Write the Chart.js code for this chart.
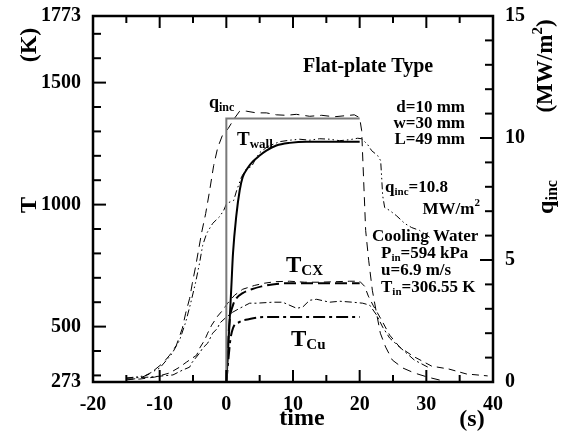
<!DOCTYPE html>
<html><head><meta charset="utf-8">
<script src="https://cdn.jsdelivr.net/npm/chart.js@4.4.1/dist/chart.umd.min.js"></script>
<style>html,body{margin:0;padding:0;background:#fff;}canvas{display:block;}</style>
</head><body>
<canvas id="c" width="565" height="434"></canvas>
<script>
// ---------- tick labels ----------
const xTicks = [-20, -10, 0, 10, 20, 30, 40];
const tTicks = [273, 500, 1000, 1500, 1773];
const qTicks = [0, 5, 10, 15];

// ---------- incident heat flux step (MW/m2) ----------
const qStepT = [0, 0, 20];
const qStepV = [0, 10.8, 10.8];

// ---------- measured heat flux (dashed, MW/m2) ----------
const qMeasT = [-15, -13, -11.5, -9.5, -8.5, -7.5, -6.6, -6.1, -5.5, -5.1, -4.6, -4.15, -3.7, -3.1, -2.5, -1.9, -1.3, -0.6, 0.3, 1.2, 2.0, 3.0, 4.5, 6.0, 7.5, 9.0, 10.5, 12.5, 14.3, 16.2, 17.7, 19.2, 20.0, 20.3, 20.6, 20.9, 21.35, 21.9, 22.5, 23.1, 23.9, 24.9, 26.5, 28.2, 30.2, 32.0];
const qMeasV = [0.08, 0.16, 0.33, 0.78, 1.1, 1.5, 2.2, 2.82, 3.43, 4.05, 4.74, 5.44, 6.13, 6.9, 7.85, 8.87, 9.6, 10.1, 10.4, 10.8, 11.1, 11.1, 11.03, 11.03, 10.95, 10.93, 10.97, 10.89, 10.93, 10.87, 10.91, 10.95, 10.83, 10.3, 8.25, 6.21, 4.99, 3.76, 2.86, 2.0, 1.43, 0.9, 0.57, 0.37, 0.2, 0.08];

// ---------- T_wall calculated (solid, K) ----------
const twCalcT = [0, 0.24, 0.5, 0.75, 1.0, 1.5, 2.0, 2.45, 3.2, 3.95, 5.0, 6.0, 7.5, 9.5, 12, 20];
const twCalcV = [273, 392, 526, 662, 800, 955, 1058, 1112, 1150, 1176, 1201, 1221, 1242, 1253, 1258, 1258];

// ---------- T_wall measured (dash-dot-dot, K) ----------
const twMeasT = [-15, -12.25, -10, -8.2, -7, -6.1, -5.35, -4.6, -4.0, -3.55, -2.95, -2.05, -1.0, -0.4, 0.05, 1.1, 1.55, 2.3, 3.05, 3.8, 4.4, 5.0, 6.2, 8, 9.5, 11, 12.5, 14, 15.5, 17, 18.5, 19.7, 20.3, 21.2, 21.8, 22.7, 23.15, 23.3, 23.45, 23.75, 24.5, 25.5, 26.75, 27.8, 29, 30.5];
const twMeasV = [289, 298, 330, 387, 445, 518, 596, 682, 763, 833, 882, 923, 951, 976, 1005, 1017, 1058, 1115, 1148, 1156, 1188, 1213, 1238, 1258, 1264, 1268, 1264, 1270, 1268, 1262, 1266, 1272, 1270, 1246, 1221, 1201, 1180, 1111, 1037, 988, 976, 955, 923, 906, 894, 866];

// ---------- T_CX calculated (thick dashed, K) ----------
const tcxCalcT = [0, 0.2, 0.5, 1.0, 1.5, 2.45, 3.8, 5.3, 7.2, 9.5, 20];
const tcxCalcV = [273, 404, 526, 588, 616, 637, 653, 665, 674, 678, 678];

// ---------- T_CX measured (thin dashed, K) ----------
const tcxMeasT = [-15, -13, -10.75, -8.5, -7, -5.95, -4.45, -4.0, -3.25, -2.8, -2.2, -1.3, -0.55, 0.2, 1.25, 2.45, 4.25, 5.75, 7.25, 9.5, 11.75, 14, 16.25, 18.5, 20, 20.75, 21.3, 22, 23.3, 24.5, 26, 28, 30.8, 33.4, 36, 39.2];
const tcxMeasV = [285, 285, 293, 310, 334, 355, 383, 412, 445, 473, 506, 543, 567, 596, 629, 653, 669, 678, 684, 686, 682, 682, 684, 686, 686, 665, 625, 588, 526, 465, 416, 379, 338, 326, 306, 298];

// ---------- T_Cu calculated (thick dash-dot, K) ----------
const tcuCalcT = [0, 0.3, 0.6, 1.0, 2.0, 3.5, 5.7, 20];
const tcuCalcV = [273, 363, 445, 494, 519, 531, 539, 539];

// ---------- T_Cu measured (thin dash-dot, K) ----------
const tcuMeasT = [-15, -11.5, -8, -6.55, -5.5, -5.2, -4, -3.55, -2.8, -2.05, -1.3, -1, 0, 0.95, 2, 3.5, 4.55, 6.95, 8.45, 10.55, 11.45, 12.5, 13.55, 15.5, 17, 18.95, 20.45, 21.5, 22.55, 23.45, 24.5, 26, 28.2, 30.5];
const tcuMeasV = [289, 293, 302, 322, 334, 351, 392, 412, 432, 473, 494, 514, 539, 559, 575, 596, 596, 600, 600, 575, 580, 608, 612, 600, 604, 600, 596, 588, 547, 498, 453, 416, 363, 330];

const FF = '"Liberation Serif","Times New Roman",serif';
function pts(xs, ys) { return xs.map((x, i) => ({ x: x, y: ys[i] })); }
function ds(xs, ys, axis, w, dash, color, smooth) {
  return {
    data: pts(xs, ys), yAxisID: axis, borderColor: color || '#000', borderWidth: w,
    borderDash: dash || [], pointRadius: 0, fill: false, tension: 0,
    cubicInterpolationMode: smooth ? 'monotone' : 'default', borderCapStyle: 'butt'
  };
}

function rich(ctx, parts, x, y, align) {
  let w = 0;
  parts.forEach(p => { ctx.font = 'bold ' + p[1] + 'px ' + FF; w += ctx.measureText(p[0]).width; });
  let cx = align === 'right' ? x - w : (align === 'center' ? x - w / 2 : x);
  ctx.textAlign = 'left'; ctx.textBaseline = 'alphabetic';
  parts.forEach(p => {
    ctx.font = 'bold ' + p[1] + 'px ' + FF;
    ctx.fillText(p[0], cx, y + (p[2] || 0));
    cx += ctx.measureText(p[0]).width;
  });
}
function rotRich(ctx, parts, cx, cy, size) {
  ctx.save(); ctx.translate(cx, cy); ctx.rotate(-Math.PI / 2);
  rich(ctx, parts, 0, size * 0.33, 'center');
  ctx.restore();
}

const decor = {
  id: 'decor',
  afterDraw(chart) {
    const { ctx, chartArea: a, scales } = chart;
    const sx = scales.x, sy = scales.y, sq = scales.y2;
    ctx.save();
    ctx.strokeStyle = '#000'; ctx.fillStyle = '#000'; ctx.lineWidth = 2;
    function ln(x1, y1, x2, y2) { ctx.beginPath(); ctx.moveTo(x1, y1); ctx.lineTo(x2, y2); ctx.stroke(); }
    for (let t = -15; t < 40; t += 5) {
      const p = sx.getPixelForValue(t), L = (t % 10 === 0) ? 12 : 7;
      ln(p, a.bottom, p, a.bottom - L); ln(p, a.top, p, a.top + L);
    }
    for (let v = 300; v <= 1700; v += 100) {
      const p = sy.getPixelForValue(v), L = (v % 500 === 0) ? 13 : 8;
      ln(a.left, p, a.left + L, p);
    }
    for (let v = 1; v <= 14; v++) {
      const p = sq.getPixelForValue(v), L = (v % 5 === 0) ? 13 : 8;
      ln(a.right, p, a.right - L, p);
    }
    ctx.lineWidth = 2.5;
    ctx.strokeRect(a.left, a.top, a.right - a.left, a.bottom - a.top);

    // axis titles
    rotRich(ctx, [['(K)', 24]], 28, 45, 24);
    rotRich(ctx, [['T', 24]], 28, 205, 24);
    rich(ctx, [['time', 24]], 302, 425, 'center');
    rich(ctx, [['(s)', 24]], 472, 426, 'center');
    rotRich(ctx, [['(MW/m', 23], ['2', 15, -10], [')', 23]], 544, 66, 23);
    rotRich(ctx, [['q', 24], ['inc', 16, 4]], 545, 197, 24);

    // annotations
    rich(ctx, [['Flat-plate Type', 20]], 303, 72, 'left');
    rich(ctx, [['d=10 mm', 17]], 465, 112, 'right');
    rich(ctx, [['w=30 mm', 17]], 465, 128, 'right');
    rich(ctx, [['L=49 mm', 17]], 465, 144, 'right');
    rich(ctx, [['q', 17], ['inc', 11, 3], ['=10.8', 17]], 385, 192, 'left');
    rich(ctx, [['MW/m', 17], ['2', 11, -8]], 480, 214, 'right');
    rich(ctx, [['Cooling Water', 17]], 372, 241, 'left');
    rich(ctx, [['P', 17], ['in', 11, 3], ['=594 kPa', 17]], 381, 258, 'left');
    rich(ctx, [['u=6.9 m/s', 17]], 381, 275, 'left');
    rich(ctx, [['T', 17], ['in', 11, 3], ['=306.55 K', 17]], 381, 292, 'left');
    rich(ctx, [['q', 18], ['inc', 12, 3]], 209, 108, 'left');
    rich(ctx, [['T', 19], ['wall', 13, 3]], 237, 145, 'left');
    rich(ctx, [['T', 23], ['CX', 15, 3]], 286, 272, 'left');
    rich(ctx, [['T', 23], ['Cu', 15, 3]], 291, 346, 'left');
    ctx.restore();
  }
};

const tickFont = { family: FF, size: 20, weight: 'bold' };
const plain = v => String(v);
new Chart(document.getElementById('c'), {
  type: 'line',
  data: {
    datasets: [
      ds(qStepT, qStepV, 'y2', 2, [], '#7a7a7a', false),
      ds(qMeasT, qMeasV, 'y2', 1, [9, 6], '#000', false),
      ds(twMeasT, twMeasV, 'y', 1, [7, 3, 1.5, 3, 1.5, 3], '#000', false),
      ds(tcxMeasT, tcxMeasV, 'y', 1, [7, 5], '#000', false),
      ds(tcuMeasT, tcuMeasV, 'y', 1, [7, 3, 2, 3], '#000', false),
      ds(twCalcT, twCalcV, 'y', 2, [], '#000', true),
      ds(tcxCalcT, tcxCalcV, 'y', 2, [12, 5], '#000', true),
      ds(tcuCalcT, tcuCalcV, 'y', 2, [12, 4, 3, 4], '#000', true)
    ]
  },
  options: {
    responsive: false, animation: false, devicePixelRatio: 1,
    layout: { padding: { top: 15, left: 0, right: 0, bottom: 0 }, autoPadding: false },
    plugins: { legend: { display: false }, tooltip: { enabled: false } },
    scales: {
      x: {
        type: 'linear', min: -20, max: 40,
        afterBuildTicks: s => { s.ticks = xTicks.map(v => ({ value: v })); },
        afterFit: s => { s.height = 52; },
        grid: { display: false }, border: { display: false },
        ticks: { font: tickFont, color: '#000', padding: 3, maxRotation: 0, autoSkip: false, callback: plain }
      },
      y: {
        type: 'linear', position: 'left', min: 273, max: 1773,
        afterBuildTicks: s => { s.ticks = tTicks.map(v => ({ value: v })); },
        afterFit: s => { s.width = 93; },
        grid: { display: false }, border: { display: false },
        ticks: { font: tickFont, color: '#000', padding: 4, autoSkip: false, callback: plain }
      },
      y2: {
        type: 'linear', position: 'right', min: 0, max: 15,
        afterBuildTicks: s => { s.ticks = qTicks.map(v => ({ value: v })); },
        afterFit: s => { s.width = 72; },
        grid: { display: false }, border: { display: false },
        ticks: { font: tickFont, color: '#000', padding: 4, autoSkip: false, callback: plain }
      }
    }
  },
  plugins: [decor]
});
</script>
</body></html>
